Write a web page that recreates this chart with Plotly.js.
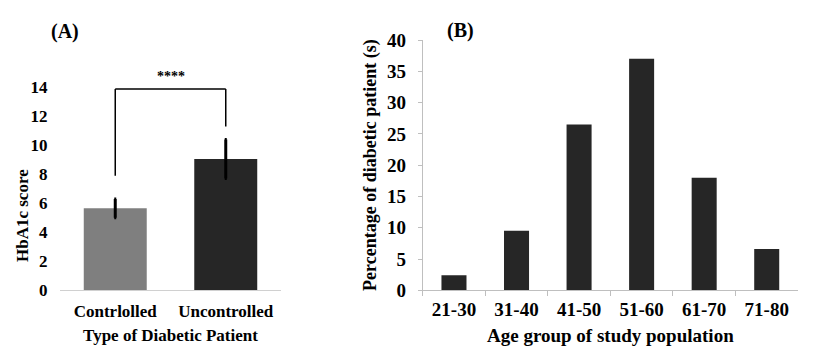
<!DOCTYPE html>
<html>
<head>
<meta charset="utf-8">
<script src="https://cdn.plot.ly/plotly-3.0.1.min.js"></script>
<style>html,body{margin:0;padding:0;background:#fff;}#chart{width:814px;height:355px;}</style>
</head>
<body>
<div id="chart"></div>
<script>
// Panel A data
const typeCategories = ["Contrlolled", "Uncontrolled"];
const hba1cMeans = [5.65, 9.05];
const hba1cErrors = [0.65, 1.35];
const hba1cColors = ["#7f7f7f", "#262626"];
const hba1cTicks = [0, 2, 4, 6, 8, 10, 12, 14];
const bracketLeftBottom = 7.9;
const bracketRightBottom = 11.3;
const bracketTop = 13.9;
const significanceLabel = "****";

// Panel B data
const ageGroups = ["21-30", "31-40", "41-50", "51-60", "61-70", "71-80"];
const agePercentages = [2.4, 9.5, 26.5, 37, 18, 6.6];
const percentTicks = [0, 5, 10, 15, 20, 25, 30, 35, 40];

const W = 814, H = 355;
const px = v => v / W;
const py = v => (H - v) / H;

const FONT = "Liberation Serif, Times New Roman, serif";
const FA = 17, FB = 19;

const traces = [
  {
    type: "bar",
    x: typeCategories,
    y: hba1cMeans,
    marker: { color: hba1cColors, line: { width: 0 } },
    width: 0.57,
    error_y: { type: "data", array: hba1cErrors, visible: true, color: "#000", thickness: 3, width: 1 },
    xaxis: "x", yaxis: "y",
    hoverinfo: "x+y"
  },
  {
    type: "bar",
    x: ageGroups,
    y: agePercentages,
    marker: { color: "#262626", line: { width: 0 } },
    width: 0.4,
    xaxis: "x2", yaxis: "y2",
    hoverinfo: "x+y"
  }
];

const layout = {
  width: W, height: H,
  margin: { l: 0, r: 0, t: 0, b: 0 },
  paper_bgcolor: "#fff",
  plot_bgcolor: "rgba(0,0,0,0)",
  showlegend: false,
  font: { family: FONT, color: "#000", size: FA, weight: "bold" },
  xaxis: {
    domain: [px(60), px(281)],
    anchor: "y",
    type: "category",
    range: [-0.5, 1.5],
    showline: true, linecolor: "#d0d0d0", linewidth: 1,
    ticks: "", showgrid: false, zeroline: false,
    tickfont: { family: FONT, size: FA, weight: "bold" },
    ticklabelstandoff: 6,
    title: { text: "Type of Diabetic Patient", font: { family: FONT, size: FA, weight: "bold" }, standoff: 8 },
    automargin: false
  },
  yaxis: {
    domain: [py(290), py(87.5)],
    anchor: "x",
    range: [0, 14],
    tickvals: hba1cTicks,
    showline: false, showgrid: false, zeroline: false,
    ticks: "outside", ticklen: 8, tickcolor: "rgba(0,0,0,0)",
    tickfont: { family: FONT, size: FA, weight: "bold" },
    automargin: false
  },
  xaxis2: {
    domain: [px(422.7), px(798)],
    anchor: "y2",
    type: "category",
    range: [-0.5, 5.5],
    showline: true, linecolor: "#bfbfbf", linewidth: 1,
    ticks: "outside", tickson: "boundaries", ticklen: 5, tickcolor: "#bfbfbf", tickwidth: 1,
    showgrid: false, zeroline: false,
    tickfont: { family: FONT, size: FB, weight: "bold" },
    ticklabelstandoff: 2,
    title: { text: "Age group of study population", font: { family: FONT, size: FB, weight: "bold" }, standoff: 9 },
    automargin: false
  },
  yaxis2: {
    domain: [py(290.3), py(40)],
    anchor: "x2",
    range: [0, 40],
    tickvals: percentTicks,
    showline: true, linecolor: "#bfbfbf", linewidth: 1,
    ticks: "outside", ticklen: 4, tickcolor: "#bfbfbf", tickwidth: 1,
    showgrid: false, zeroline: false,
    tickfont: { family: FONT, size: FB, weight: "bold" },
    ticklabelstandoff: 8,
    title: { text: "Percentage of diabetic patient (s)", font: { family: FONT, size: 18, weight: "bold" }, standoff: 5 },
    automargin: false
  },
  shapes: [
    { type: "line", xref: "x", yref: "y", x0: 0, x1: 0, y0: bracketLeftBottom, y1: bracketTop, line: { color: "#000", width: 1.5 } },
    { type: "line", xref: "x", yref: "y", x0: 0, x1: 1, y0: bracketTop, y1: bracketTop, line: { color: "#000", width: 1.5 } },
    { type: "line", xref: "x", yref: "y", x0: 1, x1: 1, y0: bracketTop, y1: bracketRightBottom, line: { color: "#000", width: 1.5 } }
  ],
  annotations: [
    { text: significanceLabel, xref: "x", yref: "y", x: 0.5, y: bracketTop, yanchor: "bottom", yshift: 3, showarrow: false, font: { family: FONT, size: 14, weight: "bold" } },
    { text: "HbA1c score", textangle: -90, xref: "paper", yref: "paper", x: px(22), y: py(216), xanchor: "center", yanchor: "middle", showarrow: false, font: { family: FONT, size: FA, weight: "bold" } },
    { text: "(A)", xref: "paper", yref: "paper", x: px(65), y: py(32), xanchor: "center", yanchor: "middle", showarrow: false, font: { family: FONT, size: 20, weight: "bold" } },
    { text: "(B)", xref: "paper", yref: "paper", x: px(460), y: py(30), xanchor: "center", yanchor: "middle", showarrow: false, font: { family: FONT, size: 20, weight: "bold" } }
  ]
};

Plotly.newPlot("chart", traces, layout, { displayModeBar: false, staticPlot: true });
</script>
</body>
</html>
